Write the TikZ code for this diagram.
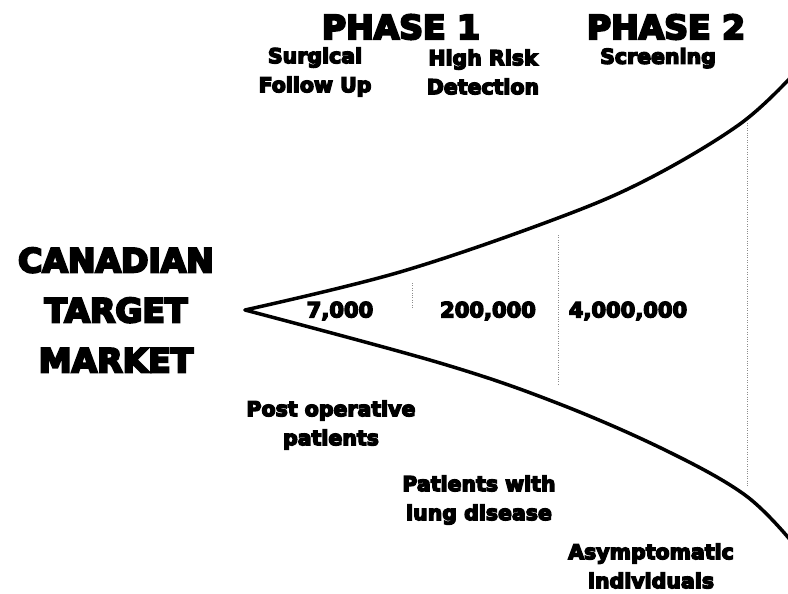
\documentclass[tikz,border=0pt]{standalone}
\usepackage{fontspec}
\setmainfont{DejaVu Sans}
\newfontfamily\heavy{DejaVu Sans Bold}
\newcommand\strokeon[1]{\special{pdf:literal direct 2 Tr #1 w 0 0 0 RG}}
\newcommand\strokeoff{\special{pdf:literal direct 0 Tr}}
\begin{document}
\begin{tikzpicture}[x=1pt,y=-1pt,
  lbl/.style={font=\heavy\fontsize{20.5}{29}\selectfont, align=center, inner sep=0pt,
    execute at begin node={\strokeon{1.4}}, execute at end node={\strokeoff}},
  big/.style={font=\heavy\fontsize{33}{50}\selectfont, align=center, inner sep=0pt,
    execute at begin node={\strokeon{2.2}}, execute at end node={\strokeoff}},
  num/.style={font=\heavy\fontsize{21}{25}\selectfont, inner sep=0pt,
    execute at begin node={\strokeon{1.4}}, execute at end node={\strokeoff}},
  funnel/.style={line width=3.5pt, line cap=round, line join=round},
  guide/.style={black!45, line width=0.7pt, dash pattern=on 1pt off 1.4pt}]
\useasboundingbox (0,0) rectangle (788,594);
% headings
\node[big] (ph1) at (401,27) {PHASE 1};
\node[big] (ph2) at (666,27) {PHASE 2};
\node[lbl] (surg) at (315,72) {Surgical\\Follow Up};
\node[lbl] (risk) at (483,72) {High Risk\\Detection};
\node[lbl, anchor=north] (scr) at (658,48) {Screening};
% market title
\node[big] (mkt) at (116,310) {CANADIAN\\TARGET\\MARKET};
% funnel
\coordinate (apex) at (245,310);
\draw[funnel] plot[smooth, tension=0.6] coordinates {(apex) (400,272) (558,218) (650,178) (740,124) (792,76)};
\draw[funnel] plot[smooth, tension=0.6] coordinates {(apex) (440,363) (557,403) (665,450) (745,495) (792,542)};
% guide lines
\coordinate (g1t) at (412,283); \coordinate (g1b) at (412,308);
\coordinate (g2t) at (558,235); \coordinate (g2b) at (558,385);
\coordinate (g3t) at (747,123); \coordinate (g3b) at (747,487);
\draw[guide] (g1t) -- (g1b);
\draw[guide] (g2t) -- (g2b);
\draw[guide] (g3t) -- (g3b);
% numbers
\node[num] (n1) at (340,311) {7,000};
\node[num] (n2) at (488,311) {200,000};
\node[num] (n3) at (628,311) {4,000,000};
% bottom labels
\node[lbl] (post) at (331,425) {Post operative\\patients};
\node[lbl] (lung) at (479,500) {Patients with\\lung disease};
\node[lbl] (asym) at (651,566) {Asymptomatic\\individuals};
\end{tikzpicture}
\end{document}
